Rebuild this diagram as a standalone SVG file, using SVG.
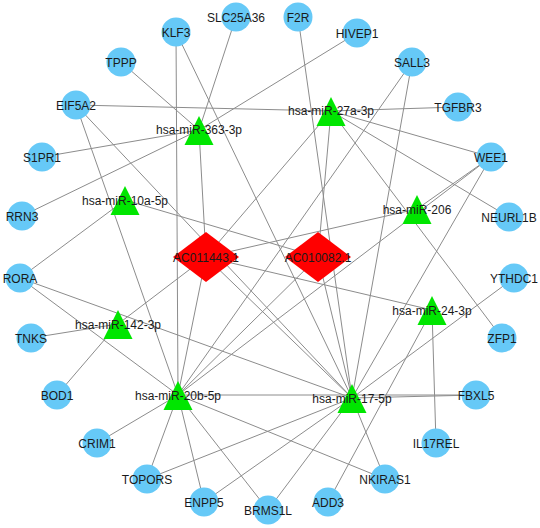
<svg xmlns="http://www.w3.org/2000/svg" width="540" height="528" viewBox="0 0 540 528">
<style>
.e line{stroke:#8c8c8c;stroke-width:1}
.g{fill:#66C9F7}
.t{fill:#00E600}
.d{fill:#FF0000}
text{font-family:"Liberation Sans",Arial,sans-serif;font-size:12px;fill:#1a1a1a;text-anchor:middle}
</style>
<rect width="540" height="528" fill="#ffffff"/>
<g id="edges" class="e">
<line x1="199" y1="130" x2="121" y2="62"/>
<line x1="199" y1="130" x2="236" y2="17"/>
<line x1="199" y1="130" x2="357" y2="33"/>
<line x1="199" y1="130" x2="42" y2="157"/>
<line x1="199" y1="130" x2="22" y2="216"/>
<line x1="199" y1="130" x2="206" y2="257"/>
<line x1="331" y1="111" x2="76" y2="105"/>
<line x1="331" y1="111" x2="458" y2="107"/>
<line x1="331" y1="111" x2="491" y2="157"/>
<line x1="331" y1="111" x2="509" y2="217"/>
<line x1="331" y1="111" x2="502" y2="338"/>
<line x1="331" y1="111" x2="206" y2="257"/>
<line x1="331" y1="111" x2="318" y2="257"/>
<line x1="125" y1="200" x2="20" y2="278"/>
<line x1="125" y1="200" x2="318" y2="257"/>
<line x1="417" y1="209" x2="491" y2="157"/>
<line x1="417" y1="209" x2="206" y2="257"/>
<line x1="118" y1="324" x2="31" y2="338"/>
<line x1="118" y1="324" x2="57" y2="395"/>
<line x1="118" y1="324" x2="206" y2="257"/>
<line x1="178" y1="395" x2="176" y2="32"/>
<line x1="178" y1="395" x2="76" y2="105"/>
<line x1="178" y1="395" x2="412" y2="62"/>
<line x1="178" y1="395" x2="491" y2="157"/>
<line x1="178" y1="395" x2="20" y2="278"/>
<line x1="178" y1="395" x2="97" y2="443"/>
<line x1="178" y1="395" x2="147" y2="479"/>
<line x1="178" y1="395" x2="204" y2="502"/>
<line x1="178" y1="395" x2="268" y2="510"/>
<line x1="178" y1="395" x2="385" y2="479"/>
<line x1="178" y1="395" x2="476" y2="395"/>
<line x1="178" y1="395" x2="206" y2="257"/>
<line x1="178" y1="395" x2="318" y2="257"/>
<line x1="352" y1="398" x2="298" y2="17"/>
<line x1="352" y1="398" x2="176" y2="32"/>
<line x1="352" y1="398" x2="412" y2="62"/>
<line x1="352" y1="398" x2="491" y2="157"/>
<line x1="352" y1="398" x2="514" y2="278"/>
<line x1="352" y1="398" x2="476" y2="395"/>
<line x1="352" y1="398" x2="385" y2="479"/>
<line x1="352" y1="398" x2="268" y2="510"/>
<line x1="352" y1="398" x2="204" y2="502"/>
<line x1="352" y1="398" x2="147" y2="479"/>
<line x1="352" y1="398" x2="20" y2="278"/>
<line x1="352" y1="398" x2="76" y2="105"/>
<line x1="352" y1="398" x2="206" y2="257"/>
<line x1="352" y1="398" x2="318" y2="257"/>
<line x1="432" y1="310" x2="436" y2="443"/>
<line x1="432" y1="310" x2="328" y2="502"/>
<line x1="432" y1="310" x2="206" y2="257"/>
</g>
<g id="SLC25A36"><circle class="g" cx="236" cy="17" r="14.5"/><text x="236" y="21.5">SLC25A36</text></g>
<g id="F2R"><circle class="g" cx="298" cy="17" r="14.5"/><text x="298" y="21.5">F2R</text></g>
<g id="KLF3"><circle class="g" cx="176" cy="32" r="14.5"/><text x="176" y="36.5">KLF3</text></g>
<g id="HIVEP1"><circle class="g" cx="357" cy="33" r="14.5"/><text x="357" y="37.5">HIVEP1</text></g>
<g id="TPPP"><circle class="g" cx="121" cy="62" r="14.5"/><text x="121" y="66.5">TPPP</text></g>
<g id="SALL3"><circle class="g" cx="412" cy="62" r="14.5"/><text x="412" y="66.5">SALL3</text></g>
<g id="EIF5A2"><circle class="g" cx="76" cy="105" r="14.5"/><text x="76" y="109.5">EIF5A2</text></g>
<g id="TGFBR3"><circle class="g" cx="458" cy="107" r="14.5"/><text x="458" y="111.5">TGFBR3</text></g>
<g id="S1PR1"><circle class="g" cx="42" cy="157" r="14.5"/><text x="42" y="161.5">S1PR1</text></g>
<g id="WEE1"><circle class="g" cx="491" cy="157" r="14.5"/><text x="491" y="161.5">WEE1</text></g>
<g id="RRN3"><circle class="g" cx="22" cy="216" r="14.5"/><text x="22" y="220.5">RRN3</text></g>
<g id="NEURL1B"><circle class="g" cx="509" cy="217" r="14.5"/><text x="509" y="221.5">NEURL1B</text></g>
<g id="RORA"><circle class="g" cx="20" cy="278" r="14.5"/><text x="20" y="282.5">RORA</text></g>
<g id="YTHDC1"><circle class="g" cx="514" cy="278" r="14.5"/><text x="514" y="282.5">YTHDC1</text></g>
<g id="TNKS"><circle class="g" cx="31" cy="338" r="14.5"/><text x="31" y="342.5">TNKS</text></g>
<g id="ZFP1"><circle class="g" cx="502" cy="338" r="14.5"/><text x="502" y="342.5">ZFP1</text></g>
<g id="BOD1"><circle class="g" cx="57" cy="395" r="14.5"/><text x="57" y="399.5">BOD1</text></g>
<g id="FBXL5"><circle class="g" cx="476" cy="395" r="14.5"/><text x="476" y="399.5">FBXL5</text></g>
<g id="CRIM1"><circle class="g" cx="97" cy="443" r="14.5"/><text x="97" y="447.5">CRIM1</text></g>
<g id="IL17REL"><circle class="g" cx="436" cy="443" r="14.5"/><text x="436" y="447.5">IL17REL</text></g>
<g id="TOPORS"><circle class="g" cx="147" cy="479" r="14.5"/><text x="147" y="483.5">TOPORS</text></g>
<g id="NKIRAS1"><circle class="g" cx="385" cy="479" r="14.5"/><text x="385" y="483.5">NKIRAS1</text></g>
<g id="ENPP5"><circle class="g" cx="204" cy="502" r="14.5"/><text x="204" y="506.5">ENPP5</text></g>
<g id="ADD3"><circle class="g" cx="328" cy="502" r="14.5"/><text x="328" y="506.5">ADD3</text></g>
<g id="BRMS1L"><circle class="g" cx="268" cy="510" r="14.5"/><text x="268" y="514.5">BRMS1L</text></g>
<g id="AC011443.1"><polygon class="d" points="206,232 239,257 206,282 173,257"/><text x="206" y="261.5">AC011443.1</text></g>
<g id="AC010082.1"><polygon class="d" points="318,232 351,257 318,282 285,257"/><text x="318" y="261.5">AC010082.1</text></g>
<g id="hsa-miR-363-3p"><polygon class="t" points="199,116 213.5,145 184.5,145"/><text x="199" y="134">hsa-miR-363-3p</text></g>
<g id="hsa-miR-27a-3p"><polygon class="t" points="331,97 345.5,126 316.5,126"/><text x="331" y="115">hsa-miR-27a-3p</text></g>
<g id="hsa-miR-10a-5p"><polygon class="t" points="125,186 139.5,215 110.5,215"/><text x="125" y="204.5">hsa-miR-10a-5p</text></g>
<g id="hsa-miR-206"><polygon class="t" points="417,195 431.5,224 402.5,224"/><text x="417" y="213.5">hsa-miR-206</text></g>
<g id="hsa-miR-142-3p"><polygon class="t" points="118,310 132.5,339 103.5,339"/><text x="118" y="328.5">hsa-miR-142-3p</text></g>
<g id="hsa-miR-24-3p"><polygon class="t" points="432,296 446.5,325 417.5,325"/><text x="432" y="314.5">hsa-miR-24-3p</text></g>
<g id="hsa-miR-20b-5p"><polygon class="t" points="178,381 192.5,410 163.5,410"/><text x="178" y="399.5">hsa-miR-20b-5p</text></g>
<g id="hsa-miR-17-5p"><polygon class="t" points="352,384 366.5,413 337.5,413"/><text x="352" y="402.5">hsa-miR-17-5p</text></g>
</svg>
